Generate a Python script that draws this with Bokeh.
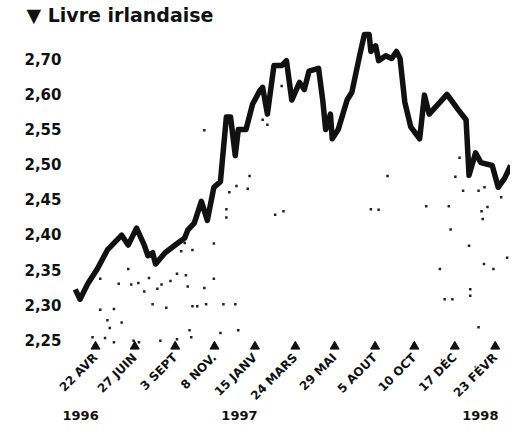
import pandas as pd
from math import pi
from bokeh.plotting import figure
from bokeh.models import Range1d, FixedTicker, ColumnDataSource, DatetimeAxis
from bokeh.embed import file_html
from bokeh.resources import INLINE

# Livre irlandaise - daily quotation
dates = ["1996-03-19", "1996-03-27", "1996-04-09", "1996-04-25", "1996-05-12", "1996-06-05",
         "1996-06-16", "1996-06-30", "1996-07-13", "1996-07-19", "1996-07-27", "1996-08-01",
         "1996-08-17", "1996-09-03", "1996-09-19", "1996-09-24", "1996-10-05", "1996-10-17",
         "1996-10-27", "1996-11-07", "1996-11-18", "1996-11-28", "1996-12-05", "1996-12-13",
         "1996-12-18", "1996-12-31", "1997-01-11", "1997-01-23", "1997-01-28", "1997-02-05",
         "1997-02-16", "1997-03-01", "1997-03-09", "1997-03-18", "1997-03-31", "1997-04-08",
         "1997-04-16", "1997-05-02", "1997-05-09", "1997-05-14", "1997-05-22", "1997-05-25",
         "1997-06-04", "1997-06-19", "1997-06-27", "1997-07-10", "1997-07-18", "1997-07-26",
         "1997-07-29", "1997-08-06", "1997-08-11", "1997-08-23", "1997-09-02", "1997-09-10",
         "1997-09-16", "1997-09-24", "1997-10-04", "1997-10-19", "1997-10-27", "1997-11-04",
         "1997-12-04", "1997-12-23", "1998-01-05", "1998-01-10", "1998-01-21", "1998-01-30",
         "1998-02-18", "1998-02-28", "1998-03-11", "1998-03-21"]
values = [2.322, 2.308, 2.330, 2.351, 2.378, 2.399,
          2.385, 2.409, 2.385, 2.370, 2.374, 2.358,
          2.374, 2.385, 2.395, 2.406, 2.416, 2.447,
          2.420, 2.467, 2.475, 2.567, 2.567, 2.512,
          2.549, 2.549, 2.585, 2.604, 2.609, 2.571,
          2.640, 2.640, 2.647, 2.591, 2.616, 2.606,
          2.632, 2.636, 2.591, 2.549, 2.571, 2.536,
          2.549, 2.591, 2.602, 2.654, 2.684, 2.684,
          2.660, 2.668, 2.647, 2.654, 2.650, 2.660,
          2.650, 2.588, 2.553, 2.536, 2.598, 2.571,
          2.599, 2.577, 2.563, 2.484, 2.516, 2.502,
          2.498, 2.467, 2.480, 2.498]

# speckles of the faint printed trace (days after 22 April 1996, value)
dot_days = [183, 8, 55, 39, 60, 72, 90, 82, 104, 111, 126, 137, 152, 144, 150, 163, 155, 183,
            199, 199, 220, 220, 225, 237, 256, 259, 302, 316, 8, 31, 96, 119, 163, 171, 186,
            215, 235, 281, 289, 313, -5, 16, 31, 64, 73, 109, 137, 158, 161, 210, 240, 20, 24,
            44, 463, 476, 491, 556, 594, 612, 605, 618, 644, 654, 659, 649, 651, 597, 628, 692,
            653, 669, 579, 630, 630, 587, 600, 682, 644]
dot_vals = [2.548, 2.337, 2.351, 2.330, 2.329, 2.331, 2.338, 2.319, 2.323, 2.329, 2.334, 2.344,
            2.342, 2.376, 2.388, 2.378, 2.326, 2.324, 2.337, 2.387, 2.436, 2.424, 2.460, 2.469,
            2.465, 2.483, 2.428, 2.433, 2.293, 2.294, 2.301, 2.296, 2.298, 2.298, 2.301, 2.301,
            2.301, 2.563, 2.556, 2.611, 2.254, 2.253, 2.247, 2.249, 2.247, 2.249, 2.251, 2.264,
            2.254, 2.260, 2.264, 2.278, 2.267, 2.275, 2.436, 2.435, 2.483, 2.440, 2.440, 2.509,
            2.482, 2.462, 2.462, 2.467, 2.439, 2.433, 2.422, 2.407, 2.384, 2.367, 2.358, 2.351,
            2.351, 2.322, 2.313, 2.308, 2.308, 2.453, 2.268]

tick_dates = ["1996-04-22", "1996-06-27", "1996-09-03", "1996-11-08", "1997-01-15", "1997-03-24",
              "1997-05-29", "1997-08-05", "1997-10-10", "1997-12-17", "1998-02-23"]
tick_labels = ["22 AVR", "27 JUIN", "3 SEPT", "8 NOV.", "15 JANV", "24 MARS",
               "29 MAI", "5 AOUT", "10 OCT", "17 DÉC", "23 FÉVR"]
y_ticks = [2.25, 2.30, 2.35, 2.40, 2.45, 2.50, 2.55, 2.60, 2.65]
y_tick_labels = ["2,25", "2,30", "2,35", "2,40", "2,45", "2,50", "2,55", "2,60", "2,70"]
years = ["1996", "1997", "1998"]
year_dates = ["1996-03-28", "1996-12-20", "1998-01-29"]
title_text = "\u25bc Livre irlandaise"

base = pd.Timestamp("1996-04-22")
def ms(t):
    return float(pd.Timestamp(t).value // 10**6)

FONT = "DejaVu Sans"
INK = "#111111"

x_start = base - pd.Timedelta(days=45.4)
x_end = base + pd.Timedelta(days=697.7)

p = figure(width=510, height=425, x_axis_type="datetime", output_backend="svg",
           toolbar_location=None,
           x_range=Range1d(x_start, x_end), y_range=Range1d(2.2337, 2.6955),
           min_border_left=68, min_border_right=0, min_border_top=26, min_border_bottom=74)
p.outline_line_color = None
p.xgrid.grid_line_color = None
p.ygrid.grid_line_color = None
p.background_fill_color = "white"
p.border_fill_color = "white"

# title
p.title.text = title_text
p.title.align = "left"
p.title.offset = -42
p.title.standoff = 2
p.title.text_font = FONT
p.title.text_font_style = "bold"
p.title.text_font_size = "19px"
p.title.text_color = INK

# faint trace speckles
dot_x = [base + pd.Timedelta(days=d) for d in dot_days]
p.scatter(x=dot_x, y=dot_vals, marker="square", size=2.5, color="#222222", line_color=None)

# main series
src = ColumnDataSource(dict(x=pd.to_datetime(dates), y=values))
p.line("x", "y", source=src, line_width=5.5, color=INK, line_join="round")

# tick triangles
tri_level = 2.2408
p.scatter(x=pd.to_datetime(tick_dates), y=[tri_level] * len(tick_dates),
          marker="triangle", size=9, color=INK)

# axes
tick_ms = [ms(t) for t in tick_dates]
p.xaxis.ticker = FixedTicker(ticks=tick_ms)
p.xaxis.major_label_overrides = dict(zip(tick_ms, tick_labels))
p.xaxis.major_label_orientation = pi / 4
p.xaxis.major_label_text_font = FONT
p.xaxis.major_label_text_font_style = "bold"
p.xaxis.major_label_text_font_size = "12px"
p.xaxis.major_label_text_color = INK
p.xaxis.major_label_standoff = 4

# years, on a second axis below the dates
year_ms = [ms(d) for d in year_dates]
year_axis = DatetimeAxis(ticker=FixedTicker(ticks=year_ms),
                         major_label_overrides=dict(zip(year_ms, years)))
year_axis.major_label_text_font = FONT
year_axis.major_label_text_font_style = "bold"
year_axis.major_label_text_font_size = "13px"
year_axis.major_label_text_color = INK
year_axis.major_label_standoff = 0
p.add_layout(year_axis, "below")

p.yaxis.ticker = FixedTicker(ticks=y_ticks)
p.yaxis.major_label_overrides = dict(zip(y_ticks, y_tick_labels))
p.yaxis.major_label_text_font = FONT
p.yaxis.major_label_text_font_style = "bold"
p.yaxis.major_label_text_font_size = "15px"
p.yaxis.major_label_text_color = INK
p.yaxis.major_label_standoff = 7

for ax in (p.xaxis[0], year_axis, p.yaxis[0]):
    ax.axis_line_color = None
    ax.major_tick_line_color = None
    ax.minor_tick_line_color = None
    ax.major_tick_out = 0
    ax.major_tick_in = 0
    ax.minor_tick_out = 0
    ax.minor_tick_in = 0

open("out.html", "w").write(file_html(p, INLINE))
